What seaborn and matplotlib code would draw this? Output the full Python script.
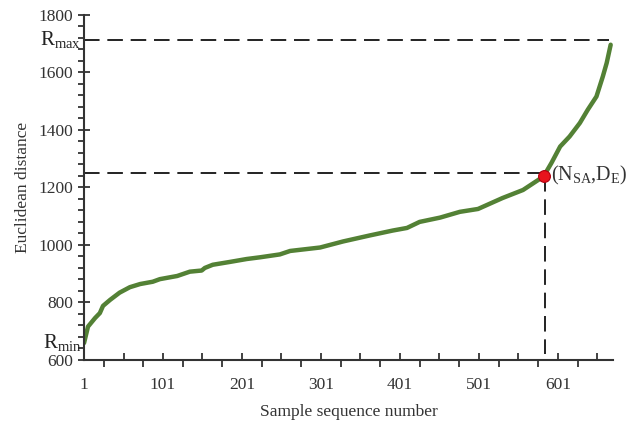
import matplotlib
matplotlib.use("Agg")
import matplotlib.pyplot as plt
import numpy as np
import pandas as pd
import seaborn as sns
from matplotlib.ticker import FixedLocator, MultipleLocator

# --- data ---
sample_no = [1, 6, 15, 21, 25, 34, 46, 59, 72, 88, 97, 119, 135, 150, 154, 164,
             186, 207, 224, 249, 262, 300, 329, 363, 392, 410, 426, 452, 477,
             500, 531, 557, 583, 593, 604, 616, 629, 639, 650, 658, 663, 668]
distance = [659, 716, 746, 763, 788, 809, 834, 853, 864, 872, 881, 892, 907, 911,
            920, 931, 941, 951, 957, 967, 979, 991, 1012, 1033, 1050, 1059, 1080,
            1095, 1115, 1125, 1163, 1191, 1238, 1285, 1342, 1377, 1424, 1470,
            1516, 1585, 1633, 1696]

r_max = 1713
r_min = 660
n_sa = 585
d_e = 1240
d_e_line = 1250

x_ticks = [1, 101, 201, 301, 401, 501, 601]
y_ticks = [600, 800, 1000, 1200, 1400, 1600, 1800]

df = pd.DataFrame({"sample": sample_no, "distance": distance})

sns.set_style("ticks")
plt.rcParams["font.family"] = ["Liberation Serif", "DejaVu Serif"]
plt.rcParams["mathtext.fontset"] = "custom"
plt.rcParams["mathtext.rm"] = "Liberation Serif"
plt.rcParams["mathtext.it"] = "Liberation Serif:italic"

fig = plt.figure(figsize=(6.32, 4.23), dpi=100, facecolor="white")
ax = fig.add_axes([0.133, 0.149, 0.837, 0.816])

text_col = "#333333"

# dashed guide lines
ax.plot([1, 666], [r_max, r_max], color="#222222", lw=1.4, ls=(0, (8, 4)))
ax.plot([1, n_sa], [d_e_line, d_e_line], color="#222222", lw=1.4, ls=(0, (8, 4)))
ax.plot([n_sa, n_sa], [d_e, 620], color="#222222", lw=1.4, ls=(0, (8, 4)))

sns.lineplot(data=df, x="sample", y="distance", ax=ax, color="#538135",
             lw=3.2, solid_capstyle="round")

ax.plot([n_sa - 1], [d_e], "o", ms=8.5, mfc="#e8141c", mec="#b00010", mew=0.8,
        zorder=5)
ax.text(n_sa + 7, d_e, r"(N$_{\rm SA}$,D$_{\rm E}$)", fontsize=14.5, va="center",
        ha="left", color=text_col)

ax.set_xlim(1, 671)
ax.set_ylim(600, 1800)
sns.despine(ax=ax)
for side in ("left", "bottom"):
    ax.spines[side].set_color("#333333")
    ax.spines[side].set_linewidth(1.5)

# x ticks: majors every 50 point inward, minors every 25 point outward
ax.xaxis.set_major_locator(FixedLocator(list(range(1, 652, 50))))
ax.set_xticklabels([str(v) if v in x_ticks else "" for v in range(1, 652, 50)])
ax.xaxis.set_minor_locator(FixedLocator(list(range(26, 652, 50))))
ax.tick_params(axis="x", which="major", direction="in", length=5, width=1.3,
               colors="#333333", labelsize=12.5, pad=12, labelcolor=text_col)
ax.tick_params(axis="x", which="minor", direction="out", length=5, width=1.3,
               colors="#333333")

ax.yaxis.set_major_locator(FixedLocator(y_ticks))
ax.yaxis.set_minor_locator(MultipleLocator(40))
ax.tick_params(axis="y", which="major", direction="inout", length=9, width=1.3,
               colors="#333333", labelsize=12.5, labelcolor=text_col)
ax.tick_params(axis="y", which="minor", direction="out", length=4, width=1.3,
               colors="#333333")

ax.set_xlabel("Sample sequence number", fontsize=12.5, color=text_col, labelpad=8)
ax.set_ylabel("Euclidean distance", fontsize=12.5, color=text_col, labelpad=5)

# R_max / R_min labels left of the axis
ax.text(-0.005, r_max, r"R$_{\rm max}$", transform=ax.get_yaxis_transform(),
        ha="right", va="center", fontsize=15, color="#222222")
ax.text(-0.005, r_min, r"R$_{\rm min}$", transform=ax.get_yaxis_transform(),
        ha="right", va="center", fontsize=15, color="#222222")

fig.savefig("out.png", dpi=100, facecolor="white")
